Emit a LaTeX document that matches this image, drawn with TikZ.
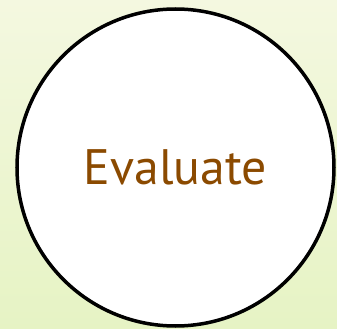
\documentclass[tikz,border=0pt]{standalone}
\usepackage{fontspec}
\setmainfont{PT Sans}
\definecolor{bgtop}{RGB}{244,248,224}
\definecolor{bgbottom}{RGB}{230,243,196}
\definecolor{wordbrown}{RGB}{139,74,0}
\tikzset{
    stage/.style={circle, draw=black, line width=3.5bp, fill=white, minimum size=317bp, inner sep=0pt},
    stagetext/.style={text=wordbrown, font=\fontsize{50}{60}\selectfont}
}
\begin{document}
\begin{tikzpicture}[x=1bp,y=1bp]
        \shade[top color=bgtop, bottom color=bgbottom] (0,0) rectangle (337,329);
        \useasboundingbox (0,0) rectangle (337,329);
        \node[stage] (evaluate) at (175.5,161.5) {};
        \node[stagetext] (evaluatetext) at (evaluate.center) {Evaluate};
    \end{tikzpicture}
\end{document}
